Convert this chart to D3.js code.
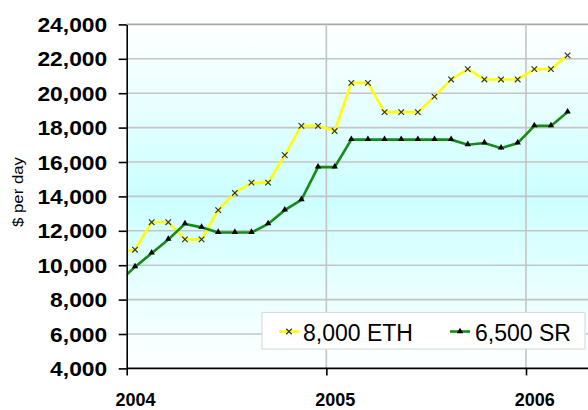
<!DOCTYPE html>
<html>
<head>
<meta charset="utf-8">
<script src="https://cdn.jsdelivr.net/npm/d3@7"></script>
<style>
  body { margin: 0; background: #fff; }
  svg { display: block; font-family: "Liberation Sans", Arial, sans-serif; }
</style>
</head>
<body>
<svg id="chart" width="588" height="410"></svg>
<script>
// meses (o primeiro, dez/2003, fica cortado na borda esquerda)
const months = ["Dec 03","Jan 04","Feb 04","Mar 04","Apr 04","May 04","Jun 04","Jul 04","Aug 04","Sep 04","Oct 04","Nov 04","Dec 04",
                "Jan 05","Feb 05","Mar 05","Apr 05","May 05","Jun 05","Jul 05","Aug 05","Sep 05","Oct 05","Nov 05","Dec 05",
                "Jan 06","Feb 06","Mar 06"];
const eth = [10750, 10900, 12500, 12500, 11500, 11500, 13200, 14200, 14800, 14800, 16400, 18100, 18100,
             17800, 20600, 20600, 18900, 18900, 18900, 19800, 20800, 21400, 20800, 20800, 20800,
             21400, 21400, 22200];
const sr = [9000, 9900, 10700, 11500, 12400, 12200, 11900, 11900, 11900, 12400, 13200, 13800, 15700,
            15700, 17300, 17300, 17300, 17300, 17300, 17300, 17300, 17000, 17100, 16800, 17100,
            18100, 18100, 18900];
const seriesNames = ["8,000 ETH", "6,500 SR"];
const yearLabels = ["2004", "2005", "2006"];
const yTicks = [4000, 6000, 8000, 10000, 12000, 14000, 16000, 18000, 20000, 22000, 24000];

const svg = d3.select("#chart");
const pLeft = 126.7, pRight = 592, pTop = 24.4, pBottom = 368.4;

// índice do mês: 0 = jan/2004; pontos no meio do mês
const x = d3.scaleLinear().domain([0, 24]).range([pLeft, 526]);
const y = d3.scaleLinear().domain([4000, 24000]).range([pBottom, pTop]);
const mx = i => x(i - 1 + 0.5); // i é a posição no array months

// fundo em degradê
const defs = svg.append("defs");
const grad = defs.append("linearGradient").attr("id", "bg").attr("x1", 0).attr("x2", 0).attr("y1", 0).attr("y2", 1);
grad.append("stop").attr("offset", "0%").attr("stop-color", "#ffffff");
grad.append("stop").attr("offset", "50%").attr("stop-color", "#ccffff");
grad.append("stop").attr("offset", "100%").attr("stop-color", "#ffffff");
defs.append("clipPath").attr("id", "clip")
  .append("rect").attr("x", pLeft).attr("y", 0).attr("width", pRight - pLeft).attr("height", 410);

svg.append("rect").attr("x", pLeft).attr("y", pTop).attr("width", pRight - pLeft).attr("height", pBottom - pTop)
  .attr("fill", "url(#bg)");

// grades
svg.append("g").selectAll("line").data(yTicks.slice(1)).join("line")
  .attr("x1", pLeft).attr("x2", pRight)
  .attr("y1", d => y(d)).attr("y2", d => y(d))
  .attr("stroke", d => d === 24000 ? "#a8a8a8" : "#c4c4c4").attr("stroke-width", 1.6);
svg.append("g").selectAll("line").data([12, 24]).join("line")
  .attr("x1", d => x(d)).attr("x2", d => x(d))
  .attr("y1", pTop).attr("y2", pBottom)
  .attr("stroke", "#c4c4c4").attr("stroke-width", 1.6);

// linhas das séries
const line = d3.line().x((d, i) => mx(i)).y(d => y(d));
const plot = svg.append("g").attr("clip-path", "url(#clip)");
plot.append("path").datum(eth).attr("d", line).attr("fill", "none").attr("stroke", "#ffff00").attr("stroke-width", 2.6);
plot.append("path").datum(sr).attr("d", line).attr("fill", "none").attr("stroke", "#168a16").attr("stroke-width", 2.6);

// marcadores
const cross = d3.symbol().type(d3.symbolX).size(22);
const tri = d3.symbol().type(d3.symbolTriangle).size(18);
plot.append("g").selectAll("path").data(eth).join("path")
  .attr("d", cross).attr("transform", (d, i) => `translate(${mx(i)},${y(d)})`)
  .attr("fill", "none").attr("stroke", "#333").attr("stroke-width", 1.2);
plot.append("g").selectAll("path").data(sr).join("path")
  .attr("d", tri).attr("transform", (d, i) => `translate(${mx(i)},${y(d) - 0.5})`)
  .attr("fill", "#000");

// eixo y
const yAxis = svg.append("g").attr("transform", `translate(${pLeft},0)`)
  .call(d3.axisLeft(y).tickValues(yTicks).tickSize(8).tickSizeOuter(0).tickFormat(d3.format(",")));
yAxis.select(".domain").attr("stroke", "#000").attr("stroke-width", 1.6);
yAxis.selectAll(".tick line").attr("stroke", "#000").attr("stroke-width", 1.6);
yAxis.selectAll(".tick text")
  .attr("x", -19.5 / 1.17).attr("dy", "0.36em")
  .attr("transform", "scale(1.17,1)")
  .attr("font-size", 19.5).attr("font-weight", "bold").attr("fill", "#000")
  .attr("font-family", "Liberation Sans, Arial, sans-serif");

// eixo x
const xAxis = svg.append("g").attr("transform", `translate(0,${pBottom})`)
  .call(d3.axisBottom(x).tickValues([0, 12, 24]).tickSize(7).tickSizeOuter(0).tickFormat((d, i) => yearLabels[i]));
xAxis.select(".domain").attr("stroke", "#000").attr("stroke-width", 1.6).attr("d", `M${pLeft},0H${pRight}`);
xAxis.selectAll(".tick line").attr("stroke", "#000").attr("stroke-width", 1.6);
xAxis.selectAll(".tick text")
  .attr("x", x(0.5) - x(0)).attr("y", 38).attr("dy", 0)
  .attr("font-size", 18).attr("font-weight", "bold").attr("fill", "#000")
  .attr("font-family", "Liberation Sans, Arial, sans-serif");

// título do eixo y
svg.append("text")
  .attr("transform", "translate(23,192) rotate(-90) scale(1.12,1)")
  .attr("text-anchor", "middle")
  .attr("font-size", 15).attr("fill", "#000")
  .text("$ per day");

// legenda
const legend = svg.append("g");
legend.append("rect").attr("x", 262).attr("y", 312.5).attr("width", 323).attr("height", 36.5)
  .attr("fill", "#fff").attr("stroke", "#dcdcdc").attr("stroke-width", 1.2);
const items = [
  { name: seriesNames[0], color: "#ffff00", sym: cross, x0: 279, tx: 303 },
  { name: seriesNames[1], color: "#168a16", sym: tri, x0: 450, tx: 475 }
];
items.forEach((it, k) => {
  legend.append("line").attr("x1", it.x0).attr("x2", it.x0 + 20).attr("y1", 331.5).attr("y2", 331.5)
    .attr("stroke", it.color).attr("stroke-width", 2.6);
  const m = legend.append("path").attr("d", it.sym).attr("transform", `translate(${it.x0 + 10},331.5)`);
  if (k === 0) m.attr("fill", "none").attr("stroke", "#333").attr("stroke-width", 1.2);
  else m.attr("fill", "#000");
  legend.append("text").attr("x", it.tx).attr("y", 340.5)
    .attr("font-size", 23).attr("fill", "#000").text(it.name);
});
</script>
</body>
</html>
